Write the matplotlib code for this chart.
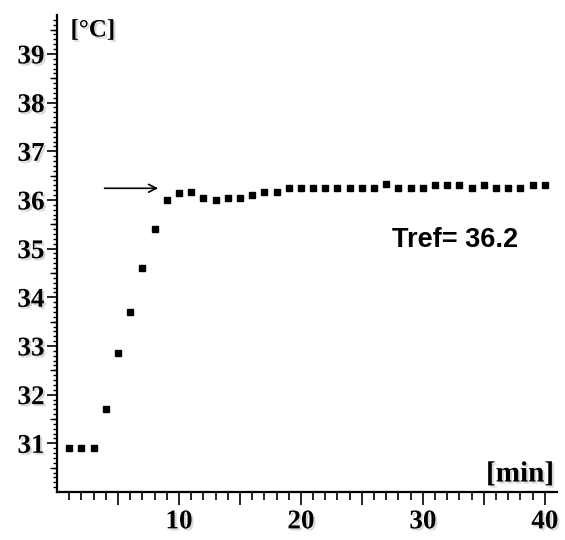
import matplotlib
matplotlib.use("Agg")
import matplotlib.pyplot as plt
import matplotlib.patheffects as pe
from matplotlib.ticker import FixedLocator, FuncFormatter

# ---- data ----
time_min = list(range(1, 41))
temp_c = [30.9, 30.9, 30.9, 31.7, 32.85, 33.7, 34.6, 35.4, 36.0, 36.14,
          36.17, 36.05, 36.0, 36.05, 36.05, 36.1, 36.16, 36.16, 36.25, 36.25,
          36.25, 36.25, 36.25, 36.25, 36.25, 36.25, 36.32, 36.25, 36.25, 36.25,
          36.3, 36.3, 36.3, 36.24, 36.3, 36.25, 36.25, 36.25, 36.3, 36.3]
x_labels = [10, 20, 30, 40]
y_labels = [31, 32, 33, 34, 35, 36, 37, 38, 39]
tref_text = "Tref= 36.2"
arrow_start = (3.9, 36.24)
arrow_end = (8.3, 36.24)

fig = plt.figure(figsize=(5.65, 5.4), dpi=100)
ax = fig.add_axes([57/565, 48/540, 500/565, 477/540])
ax.set_xlim(0, 41)
ax.set_ylim(30.0, 39.8)

ax.plot(time_min, temp_c, linestyle="none", marker="s", markersize=5,
        color="black")

for s in ["top", "right"]:
    ax.spines[s].set_visible(False)
for s in ["left", "bottom"]:
    ax.spines[s].set_linewidth(1.6)

shadow = [pe.SimplePatchShadow(offset=(1.5, -1.5), shadow_rgbFace="0.7", alpha=0.5), pe.Normal()]
tick_font = dict(family="Liberation Serif", weight="bold", size=19.5)

# x ticks
ax.xaxis.set_major_locator(FixedLocator(list(range(5, 41, 5))))
ax.xaxis.set_minor_locator(FixedLocator(time_min))
ax.xaxis.set_major_formatter(FuncFormatter(lambda v, p: f"{int(v)}" if int(v) in x_labels else ""))
ax.tick_params(axis="x", which="major", direction="out", length=9.5, width=1.2, pad=3)
ax.tick_params(axis="x", which="minor", direction="out", length=5.5, width=1.2)

# y ticks
ax.yaxis.set_major_locator(FixedLocator(y_labels))
ax.yaxis.set_minor_locator(FixedLocator([30 + i * 0.1 for i in range(1, 98)]))
ax.tick_params(axis="y", which="major", direction="out", length=7.5, width=1.2, pad=1.5)
ax.tick_params(axis="y", which="minor", direction="out", length=3, width=1.0)

# medium ticks at half degrees
sec = ax.secondary_yaxis("left")
sec.set_yticks([v + 0.5 for v in range(30, 40) if v + 0.5 < 39.8])
sec.set_yticklabels([])
sec.tick_params(direction="out", length=5, width=1.0)
sec.spines["left"].set_visible(False)

for lab in ax.get_xticklabels() + ax.get_yticklabels():
    lab.set_fontfamily(tick_font["family"])
    lab.set_fontweight(tick_font["weight"])
    lab.set_fontsize(tick_font["size"])
    lab.set_path_effects(shadow)

# axis unit labels
ax.text(93/565, (540 - 30)/540, "[°C]", transform=fig.transFigure, ha="center", va="center",
        fontfamily="Liberation Serif", fontweight="bold", fontsize=18, path_effects=shadow)
ax.text(554/565, (540 - 474)/540, "[min]", transform=fig.transFigure, ha="right", va="center",
        fontfamily="Liberation Serif", fontweight="bold", fontsize=21, path_effects=shadow)

# annotation
ax.annotate("", xy=arrow_end, xytext=arrow_start,
            arrowprops=dict(arrowstyle="->", color="black", lw=1.2,
                            mutation_scale=14, shrinkA=0, shrinkB=0))
ax.text(27.5, 35.18, tref_text, ha="left", va="center",
        fontfamily="Liberation Sans", fontweight="bold", fontsize=19.5)

fig.savefig("out.png", dpi=100)
